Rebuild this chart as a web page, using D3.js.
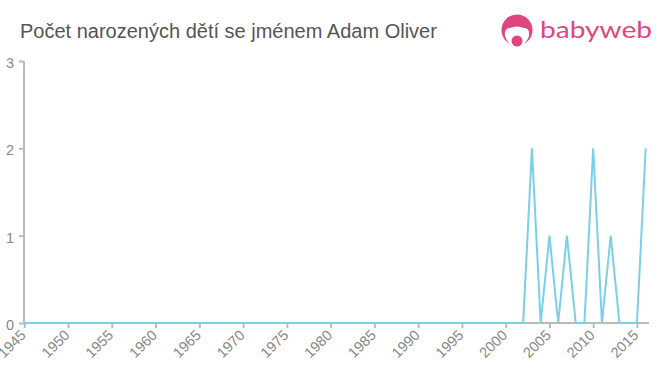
<!DOCTYPE html>
<html>
<head>
<meta charset="utf-8">
<script src="https://cdnjs.cloudflare.com/ajax/libs/d3/7.8.5/d3.min.js"></script>
<style>
  body { margin: 0; background: #fff; }
  svg { display: block; font-family: "Liberation Sans", Arial, sans-serif; }
  .axis path, .axis line { stroke: #bbb; stroke-width: 2; }
  .axis text { fill: #888; font-size: 14.5px; }
</style>
</head>
<body>
<svg id="chart" width="660" height="375"></svg>
<script>
// ========== data
const years = d3.range(1945, 2017);
const counts_nonzero = { 2003: 2, 2005: 1, 2007: 1, 2010: 2, 2012: 1, 2016: 2 };
const counts = years.map(y => counts_nonzero[y] || 0);
const x_ticks = d3.range(1945, 2016, 5);
const y_ticks = [0, 1, 2, 3];
const title = 'Počet narozených dětí se jménem Adam Oliver';

// ========== layout
const svg = d3.select('#chart');

const x = d3.scaleLinear().domain([1945, 2016]).range([24.3, 645.7]);
const y = d3.scaleLinear().domain([0, 3]).range([323, 61]);

// title
svg.append('text')
  .attr('x', 20).attr('y', 38)
  .attr('fill', '#555')
  .style('font-size', '20px')
  .text(title);

// logo
const logo = svg.append('g').attr('transform', 'translate(517,30)');
logo.append('circle').attr('r', 15.5).attr('fill', '#e0457f');
logo.append('path')
  .attr('d', 'M-12,6 Q-13,-2 -7,-2 Q0,-5 7,-2 Q13,-2 12,6 Q9,16 0,17 Q-9,16 -12,6 Z')
  .attr('fill', '#fff');
logo.append('circle').attr('cx', 0).attr('cy', 11).attr('r', 5.5).attr('fill', '#e0457f');
svg.append('text')
  .attr('x', 540).attr('y', 38)
  .attr('fill', '#e0457f')
  .attr('textLength', 112)
  .attr('lengthAdjust', 'spacingAndGlyphs')
  .style('font-family', 'Lato, "Open Sans", sans-serif')
  .style('font-size', '24px')
  .text('babyweb');

// y axis
const yAxis = svg.append('g')
  .attr('class', 'axis')
  .attr('transform', 'translate(24,0)')
  .call(d3.axisLeft(y).tickValues(y_ticks).tickFormat(d3.format('d')).tickSize(5).tickPadding(5));
yAxis.select('.domain').attr('d', `M0,${y(3)}V${y(0)}`);
yAxis.selectAll('text').attr('dy', '0.45em');

// x axis
const xAxis = svg.append('g')
  .attr('class', 'axis')
  .attr('transform', `translate(0,${y(0)})`)
  .call(d3.axisBottom(x).tickValues(x_ticks).tickFormat(d3.format('d')).tickSize(5));
xAxis.select('.domain').attr('d', `M24,0H649`);
xAxis.selectAll('text')
  .attr('text-anchor', 'end')
  .attr('x', 0).attr('y', 0).attr('dx', 0).attr('dy', 0)
  .attr('transform', 'translate(2,13) rotate(-45)');

// line
svg.append('path')
  .datum(counts)
  .attr('fill', 'none')
  .attr('stroke', '#7ccfe9')
  .attr('stroke-width', 2)
  .attr('d', d3.line().x((d, i) => x(years[i])).y(d => y(d)));
</script>
</body>
</html>
